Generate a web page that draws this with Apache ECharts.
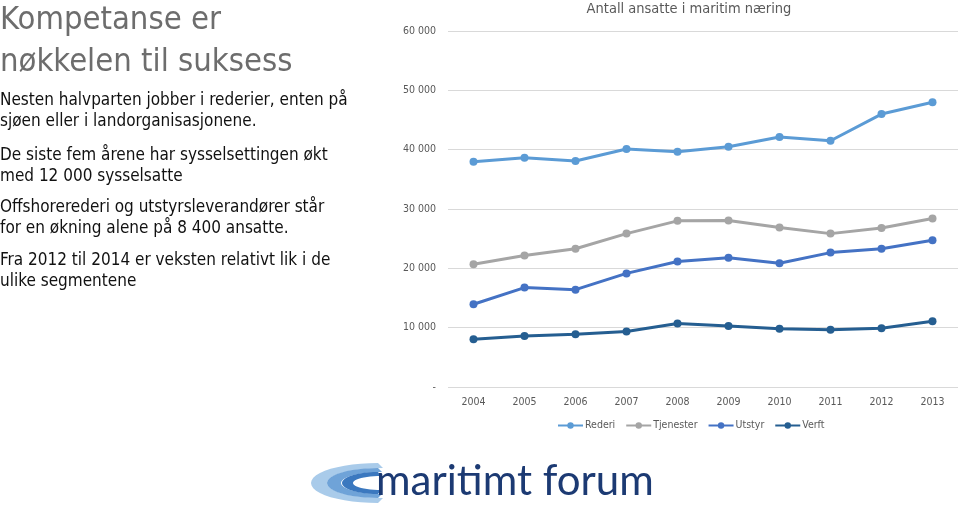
<!DOCTYPE html>
<html>
<head>
<meta charset="utf-8">
<script src="https://cdn.jsdelivr.net/npm/echarts@6/dist/echarts.min.js"></script>
<style>
  html, body { margin: 0; padding: 0; background: #fff; }
  #main { width: 959px; height: 505px; }
</style>
</head>
<body>
<div id="main"></div>
<script>
// data
const years = ['2004', '2005', '2006', '2007', '2008', '2009', '2010', '2011', '2012', '2013']
const rederi = [37950, 38650, 38100, 40100, 39650, 40500, 42150, 41500, 46000, 48000]
const tjenester = [20700, 22150, 23300, 25850, 28000, 28050, 26900, 25850, 26800, 28400]
const utstyr = [13950, 16750, 16400, 19150, 21150, 21800, 20850, 22650, 23300, 24750]
const verft = [8050, 8600, 8900, 9350, 10700, 10300, 9800, 9650, 9900, 11100]
const seriesNames = ['Rederi', 'Tjenester', 'Utstyr', 'Verft']
const colors = ['#5b9bd5', '#a5a5a5', '#4472c4', '#255e91']

const headline = ['Kompetanse er', 'nøkkelen til suksess']
const bullets = [
  ['Nesten halvparten jobber i rederier, enten på', 'sjøen eller i landorganisasjonene.'],
  ['De siste fem årene har sysselsettingen økt', 'med 12 000 sysselsatte'],
  ['Offshorerederi og utstyrsleverandører står', 'for en økning alene på 8 400 ansatte.'],
  ['Fra 2012 til 2014 er veksten relativt lik i de', 'ulike segmentene']
]

const font = '"Liberation Sans Narrow", "DejaVu Sans Condensed", "Liberation Sans", sans-serif'

const chart = echarts.init(document.getElementById('main'))

// left side text
const graphics = []
headline.forEach((t, i) => {
  graphics.push({
    type: 'text', x: 0, y: 21 + i * 42,
    style: { text: t, fill: '#6d6d6d', font: '32.5px ' + font, textVerticalAlign: 'middle' }
  })
})
const bulletTops = [101, 156, 208, 261]
bullets.forEach((lines, i) => {
  lines.forEach((t, j) => {
    graphics.push({
      type: 'text', x: 0, y: bulletTops[i] + j * 20.5,
      style: { text: t, fill: '#111', font: '17px ' + font, textVerticalAlign: 'middle' }
    })
  })
})

// logo swooshes: left halves of nested ellipse rings
function crescent(cx, cy, rx, ry, cx2, rx2, ry2) {
  const pts = []
  for (let k = 0; k <= 24; k++) {
    const a = Math.PI / 2 + Math.PI * k / 24
    pts.push([cx + rx * Math.cos(a), cy - ry * Math.sin(a)])
  }
  for (let k = 24; k >= 0; k--) {
    const a = Math.PI / 2 + Math.PI * k / 24
    pts.push([cx2 + rx2 * Math.cos(a), cy - ry2 * Math.sin(a)])
  }
  return pts
}
graphics.push({ type: 'polygon', shape: { points: crescent(378, 483, 67, 20, 383, 56, 15) }, style: { fill: '#a9cbea' } })
graphics.push({ type: 'polygon', shape: { points: crescent(378, 483, 51, 15, 382, 41, 11) }, style: { fill: '#6fa3d8' } })
graphics.push({ type: 'polygon', shape: { points: crescent(378, 483, 36, 11, 381, 28, 7) }, style: { fill: '#3b78bf' } })
graphics.push({
  type: 'text', x: 376, y: 481,
  style: { text: 'maritimt forum', fill: '#1c3a73', font: '42px Lato, "Open Sans", sans-serif', textVerticalAlign: 'middle' }
})

const series = [rederi, tjenester, utstyr, verft].map((d, i) => ({
  name: seriesNames[i],
  type: 'line',
  data: d,
  symbol: 'circle',
  symbolSize: 8,
  lineStyle: { width: 3, color: colors[i] },
  itemStyle: { color: colors[i] }
}))

chart.setOption({
  animation: false,
  color: colors,
  title: {
    text: 'Antall ansatte i maritim næring',
    left: 684, top: -3, textAlign: 'center',
    textStyle: { fontFamily: font, fontSize: 14.5, fontWeight: 'normal', color: '#595959' }
  },
  grid: { left: 448, right: 1, top: 31, bottom: 118 },
  legend: {
    data: seriesNames,
    left: 557, top: 420, padding: 0,
    itemWidth: 25, itemHeight: 8, itemGap: 10,
    textStyle: { fontFamily: font, fontSize: 10.5, color: '#595959', padding: [0, 0, 0, -3] }
  },
  xAxis: {
    type: 'category',
    data: years,
    axisLine: { show: false },
    axisTick: { show: false },
    axisLabel: { fontFamily: font, fontSize: 10.5, color: '#595959', margin: 10 }
  },
  yAxis: {
    type: 'value',
    min: 0, max: 60000, interval: 10000,
    axisLine: { show: false },
    axisTick: { show: false },
    splitLine: { lineStyle: { color: '#d9d9d9', width: 1 } },
    axisLabel: {
      fontFamily: font, fontSize: 10.5, color: '#595959', margin: 12,
      formatter: v => v === 0 ? '-' : String(v / 1000) + ' 000'
    }
  },
  graphic: graphics,
  series
})
</script>
</body>
</html>
